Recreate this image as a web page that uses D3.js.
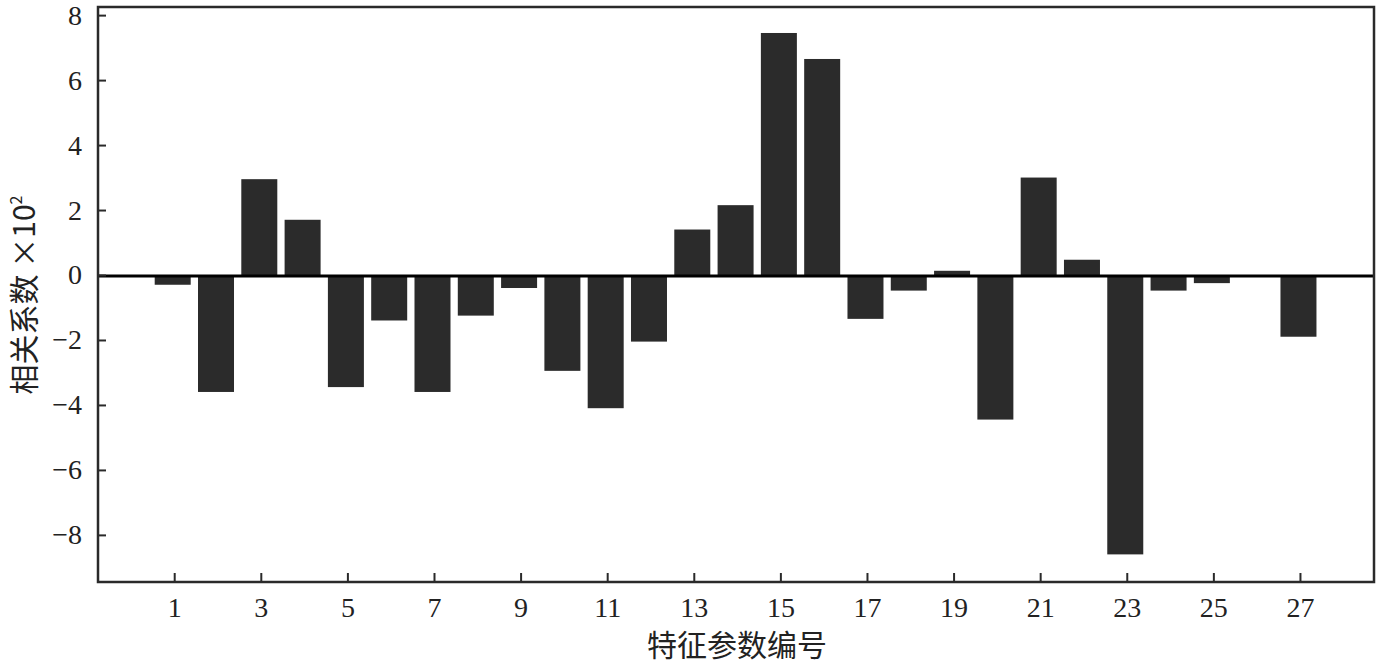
<!DOCTYPE html>
<html><head><meta charset="utf-8">
<script src="https://cdn.jsdelivr.net/npm/d3@7"></script>
<style>body{margin:0;background:#fff}svg{display:block}</style>
</head><body>
<svg id="c" width="1380" height="667"></svg>
<script>
const categories = d3.range(1, 28);
const values = [-0.3,-3.6,2.95,1.7,-3.45,-1.4,-3.6,-1.25,-0.4,-2.95,-4.1,-2.05,1.4,2.15,7.45,6.65,-1.35,-0.48,0.13,-4.45,3.0,0.47,-8.6,-0.48,-0.25,0,-1.9];
const yTicks = [-8,-6,-4,-2,0,2,4,6,8];
const xTicks = [1,3,5,7,9,11,13,15,17,19,21,23,25,27];
const xLabel = "特征参数编号";
const yLabel = "相关系数 ×10";

const svg = d3.select("#c");
const L = 98, R = 1374, T = 7, B = 582;
const x = d3.scaleLinear().domain([-0.76, 28.71]).range([L, R]);
const y = d3.scaleLinear().domain([-9.45, 8.25]).range([B, T]);
const bw = 36;
const serif = "'Liberation Serif','Times New Roman',serif";

// bars
svg.append("g").selectAll("rect").data(categories.map((c,i)=>({c, v: values[i]}))).join("rect")
  .attr("x", d => x(d.c) - bw/2 - 1.5)
  .attr("width", bw)
  .attr("y", d => y(Math.max(0, d.v)))
  .attr("height", d => Math.abs(y(d.v) - y(0)))
  .attr("fill", "#2b2b2b");

// zero line
svg.append("line").attr("x1", L).attr("x2", R).attr("y1", y(0)+1).attr("y2", y(0)+1)
  .attr("stroke", "#000").attr("stroke-width", 2.8);

// frame
svg.append("rect").attr("x", L).attr("y", T).attr("width", R-L).attr("height", B-T)
  .attr("fill", "none").attr("stroke", "#2a2a2a").attr("stroke-width", 2.5);

// y axis
const ya = svg.append("g").attr("transform", `translate(${L},0)`)
  .call(d3.axisLeft(y).tickValues(yTicks).tickSizeInner(-8).tickSizeOuter(0).tickPadding(16).tickFormat(d3.format("d")));
ya.select(".domain").remove();
ya.selectAll(".tick line").attr("stroke", "#2a2a2a").attr("stroke-width", 2);
ya.selectAll(".tick text").attr("font-family", serif).attr("font-size", 28).attr("fill", "#222");

// x axis
const xa = svg.append("g").attr("transform", `translate(0,${B})`)
  .call(d3.axisBottom(x).tickValues(xTicks).tickSizeInner(-9).tickSizeOuter(0).tickPadding(15).tickFormat(d3.format("d")));
xa.select(".domain").remove();
xa.selectAll(".tick line").attr("stroke", "#2a2a2a").attr("stroke-width", 2);
xa.selectAll(".tick text").attr("font-family", serif).attr("font-size", 28).attr("fill", "#222");

// labels
svg.append("text").attr("x", 737).attr("y", 656).attr("text-anchor", "middle")
  .attr("font-family", "'Noto Sans CJK SC',sans-serif").attr("font-size", 30).attr("fill", "#222")
  .text(xLabel);

const yl = svg.append("text").attr("transform", "translate(35,295) rotate(-90)").attr("text-anchor", "middle")
  .attr("font-family", "'Noto Sans CJK SC',sans-serif").attr("font-size", 30).attr("fill", "#222");
yl.append("tspan").text(yLabel);
yl.append("tspan").attr("dy", -13).attr("font-size", 16).text("2");
</script>
</body></html>
